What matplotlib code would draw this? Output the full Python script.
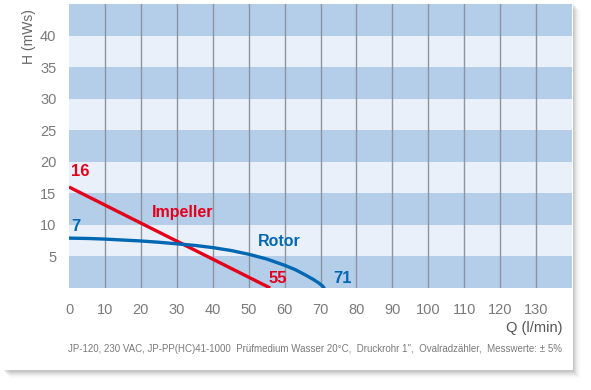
import matplotlib
matplotlib.use("Agg")
import matplotlib.pyplot as plt
from matplotlib.patches import Rectangle

# ====================================
# Data
# ====================================
impeller_q = [0, 56]
impeller_h = [16, 0]

rotor_q = [0, 5, 10, 15, 20, 25, 30, 35, 40, 45, 50, 55, 60, 63, 66, 68, 69.5, 70.5, 71]
rotor_h = [7.9, 7.85, 7.75, 7.6, 7.45, 7.25, 7.0, 6.75, 6.4, 5.95, 5.35, 4.6, 3.6,
           2.9, 2.0, 1.35, 0.8, 0.35, 0]

x_ticks = list(range(0, 140, 10))
y_ticks = [5, 10, 15, 20, 25, 30, 35, 40]
band_edges = [0, 5, 10, 15, 20, 25, 30, 35, 40, 45]

footer = ("JP-120, 230 VAC, JP-PP(HC)41-1000  Prüfmedium Wasser 20°C,  "
          "Druckrohr 1\",  Ovalradzähler,  Messwerte: ± 5%")

# ====================================
# Style
# ====================================
plt.rcParams["font.family"] = ["Liberation Sans", "DejaVu Sans"]

DARK = "#b4cde9"
LIGHT = "#eaf0f9"
RED = "#e3001b"
BLUE = "#0068b3"
GRAY = "#7a7a7a"

fig = plt.figure(figsize=(5.91, 3.90), dpi=100)
W, H = 591, 390

# panel shadow
for i in range(8):
    a = 0.05 * (1 - i / 8)
    fig.patches.append(Rectangle(((4 + i) / W, 1 - (372 + i) / H), 570 / W, 368 / H,
                                 transform=fig.transFigure, facecolor="black", alpha=a,
                                 edgecolor="none", zorder=0))
fig.patches.append(Rectangle((0, 1 - 370 / H), 573 / W, 370 / H, transform=fig.transFigure,
                             facecolor="white", edgecolor="none", zorder=1))

ax = fig.add_axes([69 / W, 1 - 288 / H, (572 - 69) / W, (288 - 4) / H])
ax.set_zorder(2)
ax.set_xlim(0, 140)
ax.set_ylim(0, 45)

# alternating bands
for i in range(len(band_edges) - 1):
    ax.axhspan(band_edges[i], band_edges[i + 1], color=DARK if i % 2 == 0 else LIGHT,
               lw=0, zorder=0)

# vertical grid
for q in x_ticks[1:]:
    ax.axvline(q, color="#8c959f", lw=1.0, zorder=1)

for s in ax.spines.values():
    s.set_visible(False)

ax.set_xticks(x_ticks)
ax.set_yticks(y_ticks)
ax.tick_params(length=0, colors=GRAY, labelsize=10.5)
ax.tick_params(axis="x", pad=11)
ax.tick_params(axis="y", pad=9)

# curves
ax.plot(impeller_q, impeller_h, color=RED, lw=2.4, zorder=3, solid_capstyle="butt")
ax.plot(rotor_q, rotor_h, color=BLUE, lw=2.4, zorder=3, solid_capstyle="round")

# labels on the curves
ax.text(0.6, 17.3, "16", color=RED, fontsize=12, fontweight="bold", ha="left", va="bottom")
ax.text(0.6, 8.6, "7", color=BLUE, fontsize=12, fontweight="bold", ha="left", va="bottom")
ax.text(23, 12.0, "Impeller", color=RED, fontsize=11.5, fontweight="bold", ha="left", va="center")
ax.text(52.5, 7.3, "Rotor", color=BLUE, fontsize=11.5, fontweight="bold", ha="left", va="center")
ax.text(55.5, 1.5, "55", color=RED, fontsize=12, fontweight="bold", ha="left", va="center")
ax.text(73.5, 1.5, "71", color=BLUE, fontsize=12, fontweight="bold", ha="left", va="center")

# axis titles
fig.text(29 / W, 1 - 37 / H, "H (mWs)", rotation=90, color="#666666", fontsize=10,
         ha="center", va="center")
fig.text(563 / W, 1 - 328 / H, "Q (l/min)", color="#555555", fontsize=10.5,
         ha="right", va="center")
fig.text(68 / W, 1 - 349 / H, footer, color=GRAY, fontsize=7.0, ha="left", va="center")

fig.savefig("out.png", dpi=100)
